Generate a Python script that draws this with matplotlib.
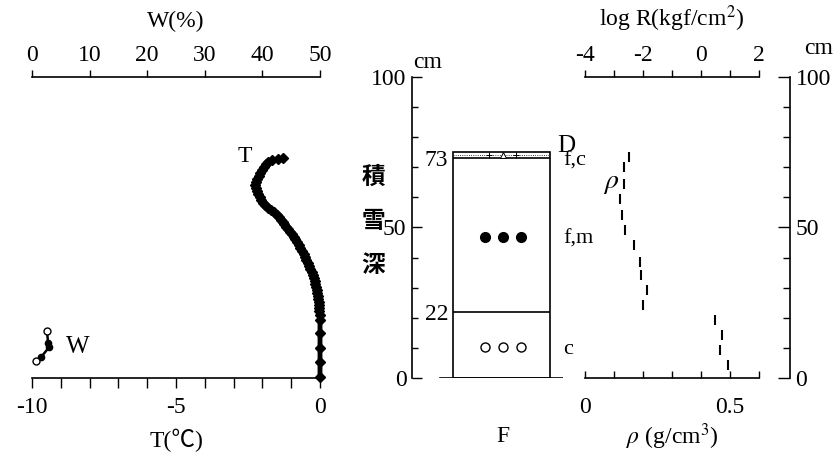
import matplotlib
matplotlib.use("Agg")
import matplotlib.pyplot as plt
from matplotlib.patches import Rectangle
from matplotlib.ticker import MultipleLocator, FixedLocator

plt.rcParams['font.family'] = ['Liberation Serif', 'Noto Sans CJK JP', 'DejaVu Serif']
plt.rcParams['mathtext.fontset'] = 'stix'
plt.rcParams['axes.unicode_minus'] = False

# ---------------- data ----------------
# temperature profile: depth (cm) and temperature (degC)
depth_T = [73.0, 72.8, 72.4, 71.8, 71.0, 70.2, 69.2, 68.2, 67.2, 66.2, 65.2, 64.2,
           63.2, 62.2, 61.2, 60.2, 59.2, 58.2, 57.4, 56.6, 55.8, 55.0, 54.2, 53.4,
           52.6, 51.8, 51.0, 50.2, 49.4, 48.6, 47.8, 47.0, 46.2, 45.2, 44.2, 43.2,
           42.2, 41.2, 40.2, 39.2, 38.2, 37.2, 36.2, 35.2, 34.2, 33.2, 32.2, 31.2,
           30.2, 29.2, 28.2, 27.2, 26.2, 25.2, 24.2, 23.2, 22.2, 21.0, 19.3, 14.9,
           9.9, 5.3, 0.3]
temp_T = [-1.30, -1.45, -1.65, -1.82, -1.88, -1.93, -2.00, -2.07, -2.12, -2.18, -2.21, -2.25,
          -2.22, -2.18, -2.15, -2.10, -2.06, -1.98, -1.90, -1.82, -1.70, -1.60, -1.50, -1.42,
          -1.36, -1.30, -1.24, -1.18, -1.12, -1.05, -0.98, -0.92, -0.86, -0.80, -0.74, -0.68,
          -0.62, -0.57, -0.52, -0.47, -0.42, -0.37, -0.33, -0.28, -0.25, -0.22, -0.19, -0.16,
          -0.14, -0.12, -0.10, -0.08, -0.06, -0.05, -0.04, -0.03, -0.02, -0.01, 0.0, 0.0,
          0.0, 0.0, 0.0]

# water content W (%)
depth_W = [15.5, 11.6, 10.3, 7.0, 5.5]
water_W = [2.6, 2.8, 3.0, 1.6, 0.7]

# snow pit layers
layer_bounds = [0, 22, 73, 75]
layer_labels = ["c", "f,m", "f,c"]
snow_depth = 75

# density rho (g/cm3)
depth_rho = [73.4, 70.0, 64.4, 59.5, 54.2, 49.2, 44.2, 38.5, 34.2, 29.2, 24.2,
             19.3, 14.3, 9.3, 4.3]
rho = [0.151, 0.134, 0.134, 0.119, 0.128, 0.137, 0.169, 0.189, 0.194, 0.213, 0.201,
       0.448, 0.473, 0.464, 0.492]

# ---------------- figure ----------------
W, H = 838, 459
fig = plt.figure(figsize=(W / 100, H / 100), dpi=100)


def ax_rect(x0, x1, ytop, ybot):
    return [x0 / W, 1 - ybot / H, (x1 - x0) / W, (ybot - ytop) / H]


def ftext(x, y, s, **kw):
    kw.setdefault('ha', 'center')
    kw.setdefault('va', 'center')
    fig.text(x / W, 1 - y / H, s, **kw)


FS = 17
Y0, Y100 = 378, 77

# ---------- left panel: T and W ----------
ax1 = fig.add_axes(ax_rect(32, 320, Y100, Y0))
ax1.set_xlim(-10, 0)
ax1.set_ylim(0, 100)
ax1.patch.set_visible(False)
for s in ['left', 'right', 'top']:
    ax1.spines[s].set_visible(False)
ax1.spines['bottom'].set_linewidth(1.2)
ax1.set_yticks([])
ax1.xaxis.set_major_locator(FixedLocator([-10, -5, 0]))
ax1.xaxis.set_minor_locator(MultipleLocator(1))
ax1.tick_params(axis='x', which='both', direction='out', length=7, width=1,
                labelsize=FS, pad=7)
ax1.set_xticklabels(['-10', '-5', '0'])
ax1.plot(temp_T, depth_T, '-', color='black', lw=3.5, marker='D', ms=5,
         clip_on=False)

axw = ax1.twiny()
axw.set_xlim(0, 50)
for s in ['left', 'right', 'bottom']:
    axw.spines[s].set_visible(False)
axw.spines['top'].set_linewidth(1.2)
axw.xaxis.set_major_locator(MultipleLocator(10))
axw.tick_params(axis='x', which='both', direction='out', length=5, width=1,
                labelsize=FS, pad=3)
axw.plot(water_W, depth_W, '-', color='black', lw=1.8)
axw.plot(water_W[1:4], depth_W[1:4], 'o', color='black', ms=4.5)
axw.plot([water_W[0], water_W[-1]], [depth_W[0], depth_W[-1]], 'o', mfc='white',
         mec='black', ms=5, mew=1)

ftext(176, 21, 'W(%)', fontsize=FS)
ftext(176, 440, 'T(℃)', fontsize=FS)
ftext(245, 157, 'T', fontsize=FS)
ftext(78, 347, 'W', fontsize=FS + 1)

# ---------- middle panel: stratigraphy ----------
ax2 = fig.add_axes(ax_rect(412, 563, Y100, Y0))
ax2.set_xlim(0, 1)
ax2.set_ylim(0, 100)
ax2.patch.set_visible(False)
for s in ['right', 'top', 'bottom']:
    ax2.spines[s].set_visible(False)
ax2.spines['left'].set_linewidth(1.2)
ax2.set_xticks([])
ax2.yaxis.set_major_locator(FixedLocator([0, 50, 100]))
ax2.yaxis.set_minor_locator(MultipleLocator(10))
ax2.tick_params(axis='y', which='major', direction='in', length=7, width=1,
                labelsize=FS, pad=4)
ax2.tick_params(axis='y', which='minor', direction='in', length=4.5, width=1)

bx0, bx1 = 0.272, 0.914
ax2.axhline(0, xmin=0.185, xmax=1.0, color='black', lw=1.2)
ax2.add_patch(Rectangle((bx0, 0), bx1 - bx0, snow_depth, fill=False,
                        edgecolor='black', lw=1.2))
ax2.hlines([layer_bounds[1], layer_bounds[2]], bx0, bx1, color='black', lw=1.2)
ax2.hlines([74.0], bx0, bx1, color='black', lw=0.6, linestyles=':')
cx = [0.483, 0.603, 0.722]
ax2.plot(cx, [10.3] * 3, 'o', mfc='white', mec='black', ms=6.5, mew=1)
ax2.plot(cx, [46.8] * 3, 'o', color='black', ms=7)
ax2.plot([cx[1]], [74.0], '^', mfc='white', mec='black', ms=5, mew=0.7)
ax2.plot([cx[0] + 0.03, cx[2] - 0.03], [74.0, 74.0], '+', color='black', ms=4, mew=0.7)

ftext(448, 160, '73', fontsize=FS, ha='right')
ftext(448, 315, '22', fontsize=FS, ha='right')
ftext(557, 146, 'D', fontsize=FS + 1, ha='left')
ftext(563, 161, layer_labels[2], fontsize=FS - 1, ha='left')
ftext(563, 239, layer_labels[1], fontsize=FS - 1, ha='left')
ftext(563, 349, layer_labels[0], fontsize=FS - 1, ha='left')
ftext(503, 436, 'F', fontsize=FS)
ftext(428, 62, 'cm', fontsize=FS)
for ch, yy in zip('積雪深', [177, 221, 265]):
    ftext(373, yy, ch, fontsize=17, family=['Noto Sans CJK JP'], weight='bold')

# ---------- right panel: density and log R ----------
ax3 = fig.add_axes(ax_rect(585, 759, Y100, Y0))
ax3.set_xlim(0, 0.6)
ax3.set_ylim(0, 100)
ax3.patch.set_visible(False)
for s in ['left', 'top']:
    ax3.spines[s].set_visible(False)
ax3.spines['bottom'].set_linewidth(1.2)
ax3.spines['right'].set_position(('axes', (790 - 585) / 174))
ax3.spines['right'].set_bounds(0, 100)
ax3.spines['right'].set_linewidth(1.2)
ax3.xaxis.set_major_locator(FixedLocator([0, 0.5]))
ax3.xaxis.set_minor_locator(MultipleLocator(0.1))
ax3.set_xticklabels(['0', '0.5'])
ax3.tick_params(axis='x', which='both', direction='in', length=5, width=1,
                labelsize=FS, pad=14)
ax3.yaxis.set_ticks_position('right')
ax3.yaxis.set_major_locator(FixedLocator([0, 50, 100]))
ax3.yaxis.set_minor_locator(MultipleLocator(10))
ax3.tick_params(axis='y', which='major', direction='in', length=9, width=1,
                labelsize=FS, pad=4)
ax3.tick_params(axis='y', which='minor', direction='in', length=5, width=1)
ax3.plot(rho, depth_rho, linestyle='none', marker='|', color='black', ms=7, mew=1.5)

axr = ax3.twiny()
axr.set_xlim(-4, 2)
for s in ['left', 'right', 'bottom']:
    axr.spines[s].set_visible(False)
axr.spines['top'].set_linewidth(1.2)
axr.xaxis.set_major_locator(FixedLocator([-4, -2, 0, 2]))
axr.xaxis.set_minor_locator(MultipleLocator(1))
axr.tick_params(axis='x', which='both', direction='out', length=5, width=1,
                labelsize=FS, pad=3)

ftext(672, 19, r'log R(kgf/cm$^2$)', fontsize=FS)
ftext(672, 437, r'$\rho$ (g/cm$^3$)', fontsize=FS)
ftext(611, 183, r'$\rho$', fontsize=FS + 3)
ftext(819, 49, 'cm', fontsize=FS)

fig.savefig('out.png', dpi=100)
